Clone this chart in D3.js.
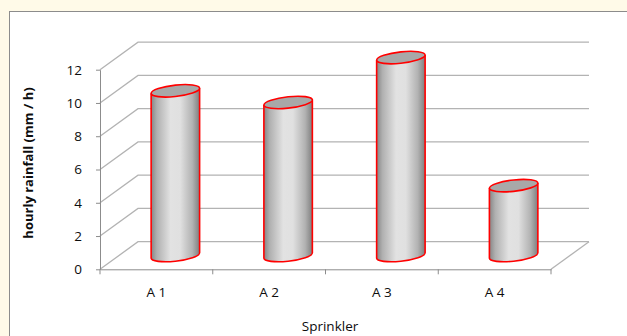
<!DOCTYPE html>
<html>
<head>
<meta charset="utf-8">
<script src="https://cdn.jsdelivr.net/npm/d3@7"></script>
<style>
  html, body { margin: 0; padding: 0; background: #fffae8; overflow: hidden; }
  svg { display: block; }
  text { font-family: "Open Sans", "Noto Sans", sans-serif; fill: #0d0d0d; }
</style>
</head>
<body>
<svg id="chart" width="627" height="336"></svg>
<script>
// Sprinkler categories and measured hourly rainfall (mm / h)
const categories = ["A 1", "A 2", "A 3", "A 4"];
const rainfall = [9.9, 9.2, 11.9, 4.2];
const yTicks = [0, 2, 4, 6, 8, 10, 12];

const svg = d3.select("#chart");

// chart panel
svg.append("rect")
  .attr("x", 9.5).attr("y", 11.5)
  .attr("width", 640).attr("height", 340)
  .attr("fill", "#ffffff")
  .attr("stroke", "#8c8c8c").attr("stroke-width", 1);

// front plane scales
const x = d3.scaleBand(categories, [100, 551]);
const y = d3.scaleLinear([0, 12], [269.3, 69.7]);

// depth of the 3D box (front -> back wall)
const depth = { dx: 38, dy: -27.6 };
const x0 = x.range()[0], x1 = x.range()[1];

const grid = svg.append("g").attr("fill", "none");

// back-wall gridlines with their diagonal on the left side wall
yTicks.forEach(t => {
  const yf = y(t), yb = y(t) + depth.dy;
  grid.append("path")
    .attr("d", `M${x0},${yf}L${x0 + depth.dx},${yb}L${x1 + depth.dx},${yb}`)
    .attr("stroke", "#b3b3b3").attr("stroke-width", 1.3);
});
// floor right edge
grid.append("path")
  .attr("d", `M${x1},${y(0)}L${x1 + depth.dx},${y(0) + depth.dy}`)
  .attr("stroke", "#b3b3b3").attr("stroke-width", 1.3);

// y axis
const yAxis = svg.append("g")
  .attr("transform", `translate(${x0},0)`)
  .call(d3.axisLeft(y).tickValues(yTicks).tickSize(4).tickPadding(14).tickSizeOuter(0));
yAxis.select(".domain").attr("stroke", "#8c8c8c");
yAxis.selectAll(".tick line").attr("stroke", "#8c8c8c");
yAxis.selectAll(".tick text").attr("font-size", 13.5).attr("fill", "#0d0d0d")
  .attr("font-family", "'Open Sans', sans-serif");

// x axis: labels at band centres, ticks at band boundaries
const xAxis = svg.append("g")
  .attr("transform", `translate(0,${y(0)})`)
  .call(d3.axisBottom(x).tickSize(0).tickPadding(18));
xAxis.select(".domain").attr("stroke", "#8c8c8c");
xAxis.selectAll(".tick text").attr("font-size", 13.5).attr("fill", "#0d0d0d")
  .attr("font-family", "'Open Sans', sans-serif");
const bounds = categories.map(c => x(c)).concat([x1]);
xAxis.selectAll("line.bound").data(bounds).join("line")
  .attr("class", "bound")
  .attr("x1", d => d).attr("x2", d => d)
  .attr("y1", 0).attr("y2", 5)
  .attr("stroke", "#8c8c8c");

// cylinder shading
const defs = svg.append("defs");
const grad = defs.append("linearGradient").attr("id", "cyl")
  .attr("x1", "0%").attr("x2", "100%").attr("y1", "0%").attr("y2", "0%");
[[0, "#858585"], [0.12, "#b0b0b0"], [0.4, "#e2e2e2"], [0.6, "#e0e0e0"], [0.85, "#b2b2b2"], [1, "#7e7e7e"]]
  .forEach(([o, c]) => grad.append("stop").attr("offset", o).attr("stop-color", c));

// cylinders sit halfway into the depth of the box
const rx = x.bandwidth() * 0.215;
const ry = 5.7;
const cyl = svg.append("g").selectAll("g").data(categories).join("g")
  .attr("transform", c => `translate(${x(c) + x.bandwidth() / 2 + depth.dx / 2},${depth.dy / 2}) skewY(-6)`);

cyl.each(function (c, i) {
  const g = d3.select(this);
  const yb = y(0), yt = y(rainfall[i]);
  g.append("path")
    .attr("d", `M${-rx},${yt}L${-rx},${yb}A${rx},${ry} 0 0 0 ${rx},${yb}L${rx},${yt}A${rx},${ry} 0 0 0 ${-rx},${yt}Z`)
    .attr("fill", "url(#cyl)");
  g.append("path")
    .attr("d", `M${-rx},${yt}L${-rx},${yb}A${rx},${ry} 0 0 0 ${rx},${yb}L${rx},${yt}`)
    .attr("fill", "none").attr("stroke", "#ff0000").attr("stroke-width", 1.6);
  g.append("ellipse")
    .attr("cx", 0).attr("cy", yt).attr("rx", rx).attr("ry", ry)
    .attr("fill", "#a8a8a8").attr("stroke", "#ff0000").attr("stroke-width", 1.6);
});

// axis titles
svg.append("text")
  .attr("transform", "translate(33,163) rotate(-90)")
  .attr("text-anchor", "middle")
  .attr("font-size", 13).attr("font-weight", "bold")
  .text("hourly rainfall (mm / h)");
svg.append("text")
  .attr("x", 330).attr("y", 331)
  .attr("text-anchor", "middle")
  .attr("font-size", 13.5)
  .text("Sprinkler");
</script>
</body>
</html>
